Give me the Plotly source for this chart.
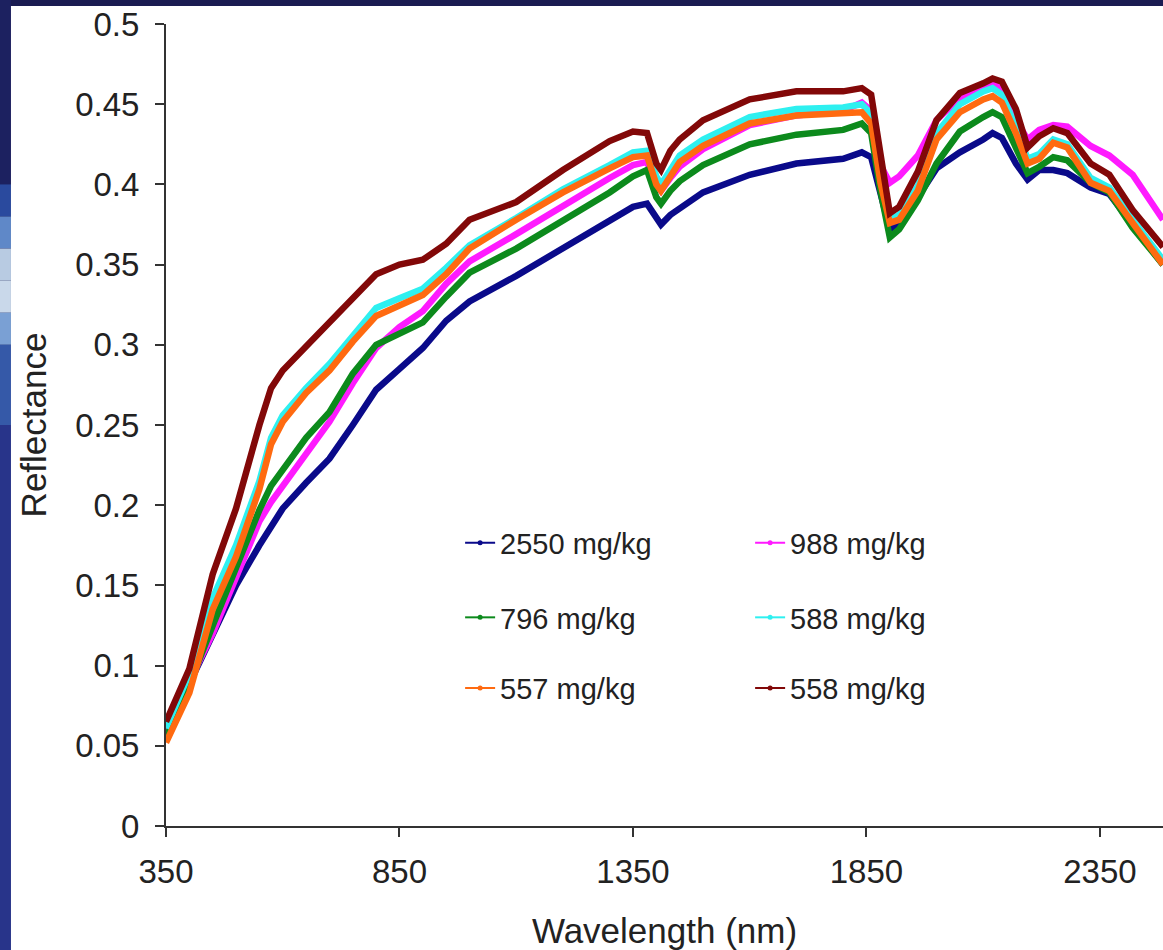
import plotly.graph_objects as go

# wavelength (nm) sampled along the spectra
wavelength = [350, 400, 450, 500, 550, 575, 600, 650, 700, 750, 800, 850, 900, 950, 1000,
              1100, 1200, 1300, 1350, 1380, 1400, 1410, 1430, 1450, 1500, 1600, 1700, 1800,
              1840, 1860, 1880, 1900, 1920, 1960, 2000, 2050, 2100, 2120, 2140, 2170, 2195,
              2220, 2250, 2280, 2330, 2370, 2420, 2485]

refl_2550 = [0.058, 0.088, 0.118, 0.150, 0.175, 0.187, 0.198, 0.214, 0.229, 0.250, 0.272, 0.285,
             0.298, 0.315, 0.327, 0.343, 0.360, 0.377, 0.386, 0.388, 0.379, 0.375, 0.381, 0.385,
             0.395, 0.406, 0.413, 0.416, 0.420, 0.417, 0.395, 0.372, 0.376, 0.392, 0.410, 0.420,
             0.428, 0.432, 0.429, 0.413, 0.403, 0.409, 0.409, 0.407, 0.398, 0.394, 0.375, 0.350]
refl_988 = [0.057, 0.090, 0.120, 0.155, 0.190, 0.202, 0.212, 0.232, 0.252, 0.276, 0.298, 0.311,
            0.321, 0.338, 0.352, 0.369, 0.387, 0.404, 0.412, 0.414, 0.400, 0.396, 0.404, 0.411,
            0.422, 0.437, 0.443, 0.446, 0.451, 0.446, 0.412, 0.401, 0.405, 0.418, 0.440, 0.454,
            0.461, 0.463, 0.459, 0.440, 0.428, 0.434, 0.437, 0.436, 0.424, 0.418, 0.406, 0.378]
refl_796 = [0.055, 0.088, 0.125, 0.162, 0.197, 0.212, 0.222, 0.242, 0.258, 0.282, 0.300, 0.307,
            0.314, 0.330, 0.345, 0.360, 0.377, 0.395, 0.405, 0.409, 0.392, 0.388, 0.396, 0.402,
            0.412, 0.425, 0.431, 0.434, 0.438, 0.432, 0.396, 0.367, 0.372, 0.390, 0.413, 0.433,
            0.442, 0.445, 0.442, 0.423, 0.407, 0.411, 0.417, 0.415, 0.401, 0.395, 0.373, 0.350]
refl_588 = [0.061, 0.095, 0.142, 0.175, 0.215, 0.242, 0.256, 0.273, 0.288, 0.306, 0.323, 0.329,
            0.335, 0.348, 0.362, 0.379, 0.397, 0.412, 0.420, 0.421, 0.405, 0.400, 0.410, 0.418,
            0.428, 0.442, 0.447, 0.448, 0.450, 0.444, 0.405, 0.378, 0.381, 0.399, 0.432, 0.450,
            0.458, 0.460, 0.456, 0.436, 0.416, 0.419, 0.428, 0.425, 0.404, 0.398, 0.378, 0.353]
refl_557 = [0.052, 0.083, 0.135, 0.168, 0.210, 0.238, 0.252, 0.270, 0.284, 0.302, 0.318, 0.325,
            0.331, 0.344, 0.360, 0.378, 0.395, 0.410, 0.417, 0.418, 0.400, 0.396, 0.406, 0.414,
            0.424, 0.438, 0.443, 0.444, 0.445, 0.438, 0.401, 0.376, 0.378, 0.396, 0.428, 0.445,
            0.453, 0.455, 0.451, 0.432, 0.413, 0.416, 0.426, 0.423, 0.401, 0.396, 0.376, 0.350]
refl_558 = [0.065, 0.098, 0.157, 0.198, 0.250, 0.273, 0.284, 0.299, 0.313, 0.328, 0.344, 0.350,
            0.353, 0.363, 0.378, 0.389, 0.409, 0.427, 0.433, 0.432, 0.413, 0.409, 0.421, 0.428,
            0.440, 0.453, 0.458, 0.458, 0.460, 0.456, 0.420, 0.382, 0.386, 0.408, 0.440, 0.457,
            0.463, 0.466, 0.464, 0.447, 0.423, 0.430, 0.435, 0.432, 0.413, 0.406, 0.384, 0.361]

series_names = ['2550 mg/kg', '988 mg/kg', '796 mg/kg', '588 mg/kg', '557 mg/kg', '558 mg/kg']
series_values = [refl_2550, refl_988, refl_796, refl_588, refl_557, refl_558]
series_colors = ['#0a0a8a', '#ff1aff', '#0c8a1c', '#2ef0f0', '#ff6a10', '#820808']
legend_rows = ['legend', 'legend', 'legend2', 'legend2', 'legend3', 'legend3']

x_ticks = [350, 850, 1350, 1850, 2350]
y_ticks = [0, 0.05, 0.1, 0.15, 0.2, 0.25, 0.3, 0.35, 0.4, 0.45, 0.5]
y_labels = ['0', '0.05', '0.1', '0.15', '0.2', '0.25', '0.3', '0.35', '0.4', '0.45', '0.5']

FONT = 'Liberation Sans, Arial, sans-serif'

fig = go.Figure()

for name, vals, color in zip(series_names, series_values, series_colors):
    fig.add_trace(go.Scatter(x=wavelength, y=vals, name=name, mode='lines',
                             line=dict(color=color, width=6.5), showlegend=False))

# thin line + dot legend entries, two per row
for name, color, leg in zip(series_names, series_colors, legend_rows):
    fig.add_trace(go.Scatter(x=[None], y=[None], name=name, mode='lines+markers',
                             line=dict(color=color, width=2),
                             marker=dict(color=color, size=5),
                             legend=leg))

def row_legend(y):
    return dict(x=0.295, y=y, xanchor='left', yanchor='middle',
                orientation='h', entrywidth=245, entrywidthmode='pixels',
                bgcolor='rgba(0,0,0,0)', font=dict(family=FONT, size=29, color='#222'))

# slide-style background: dark frame at top and left, white page
shapes = [
    dict(type='rect', xref='paper', yref='paper', x0=-0.17, x1=1.01, y0=-0.2, y1=1.1,
         fillcolor='#1a1c52', line_width=0, layer='below'),
]
strip = [(1.1, 0.80, '#1c2160'), (0.80, 0.76, '#2a4a9e'), (0.76, 0.72, '#5f88c8'),
         (0.72, 0.68, '#b8cbe2'), (0.68, 0.64, '#c9d8ea'), (0.64, 0.60, '#7aa0d4'),
         (0.60, 0.50, '#3559a8'), (0.50, -0.2, '#28348a')]
for y1, y0, c in strip:
    shapes.append(dict(type='rect', xref='paper', yref='paper', x0=-0.17, x1=-0.1555,
                       y0=y0, y1=y1, fillcolor=c, line_width=0, layer='below'))
shapes.append(dict(type='rect', xref='paper', yref='paper', x0=-0.1555, x1=1.01,
                   y0=-0.2, y1=1.0224, fillcolor='white', line_width=0, layer='below'))

fig.update_layout(
    width=1163, height=950,
    margin=dict(l=166, r=0, t=24, b=124),
    paper_bgcolor='#1a1c52', plot_bgcolor='white',
    font=dict(family=FONT, size=33, color='#222'),
    shapes=shapes,
    legend=row_legend(0.353),
    legend2=row_legend(0.260),
    legend3=row_legend(0.172),
    xaxis=dict(range=[350, 2485], tickvals=x_ticks, showgrid=False, zeroline=False,
               showline=True, linecolor='#333', linewidth=2, automargin=False,
               ticks='outside', ticklen=9, tickwidth=2, tickcolor='#333',
               ticklabelstandoff=6,
               title=dict(text='Wavelength (nm)', font=dict(size=35), standoff=30)),
    yaxis=dict(range=[0, 0.5], tickvals=y_ticks, ticktext=y_labels, showgrid=False,
               zeroline=False, showline=True, linecolor='#333', linewidth=2, automargin=False,
               ticks='outside', ticklen=9, tickwidth=2, tickcolor='#333',
               ticklabelstandoff=9,
               title=dict(text='Reflectance', font=dict(size=35), standoff=18)),
)

# the page body has a default 8px margin; drop it so the figure fills the window
fig.write_html('out.html', config={'displayModeBar': False},
               post_script="document.body.style.margin='0';")
